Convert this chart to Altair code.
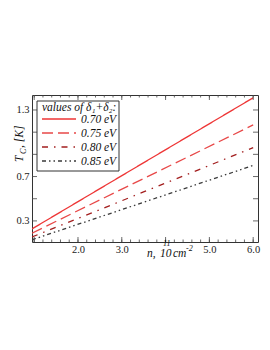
import altair as alt
import pandas as pd

# ---- data ----
series = ["0.70 eV", "0.75 eV", "0.80 eV", "0.85 eV"]
n_start = [0.95, 0.95, 0.95, 0.95]
n_end = [6.0, 6.0, 6.0, 6.0]
tc_start = [0.228, 0.19, 0.155, 0.13]
tc_end = [1.41, 1.165, 0.96, 0.80]

colors = ["#ee3636", "#e84848", "#a31f1f", "#3a3a3a"]
dashes = [[1, 0], [11, 5], [6, 6, 1.5, 6], [4, 3, 1.5, 3, 1.5, 3]]
legend_title = "values of δ₁+δ₂:"

x_labels = [2.0, 3.0, 5.0, 6.0]
y_labels = [0.3, 0.7, 1.3]
x_major = [1.0, 2.0, 3.0, 4.0, 5.0, 6.0]
x_minor = [round(1.0 + 0.2 * i, 2) for i in range(26)]
y_major = [0.3, 0.5, 0.7, 0.9, 1.1, 1.3]

W, H = 226, 147
XDOM = [0.95, 6.11]
YDOM = [0.11, 1.435]
FONT = "Liberation Serif"

rows = []
for s, a, b, c, d in zip(series, n_start, n_end, tc_start, tc_end):
    rows.append({"series": s, "n": a, "tc": c})
    rows.append({"series": s, "n": b, "tc": d})
df = pd.DataFrame(rows)

xs = alt.Scale(domain=XDOM, nice=False, zero=False)
ys = alt.Scale(domain=YDOM, nice=False, zero=False)

lines = alt.Chart(df).mark_line(strokeWidth=1.3, clip=True).encode(
    x=alt.X("n:Q", scale=xs,
            axis=alt.Axis(values=x_labels, format=".1f", ticks=False, domain=False,
                          grid=False, title=None, labelFont=FONT, labelFontSize=10.5,
                          labelColor="#222", labelPadding=2)),
    y=alt.Y("tc:Q", scale=ys,
            axis=alt.Axis(values=y_labels, format=".1f", ticks=False, domain=False,
                          grid=False, title=None, labelFont=FONT, labelFontSize=10.5,
                          labelColor="#222", labelPadding=3)),
    color=alt.Color("series:N", scale=alt.Scale(domain=series, range=colors), legend=None),
    strokeDash=alt.StrokeDash("series:N", scale=alt.Scale(domain=series, range=dashes),
                              legend=None),
)

tx_major = pd.DataFrame({"v": x_major})
tx_minor = pd.DataFrame({"v": x_minor})
ty_major = pd.DataFrame({"v": y_major})

def xticks(d, length):
    bot = alt.Chart(d).mark_rule(color="#444", strokeWidth=0.8).encode(
        x=alt.X("v:Q", scale=xs), y=alt.value(H), y2=alt.value(H - length))
    top = alt.Chart(d).mark_rule(color="#444", strokeWidth=0.8).encode(
        x=alt.X("v:Q", scale=xs), y=alt.value(0), y2=alt.value(length))
    return [bot, top]

def yticks(d, length):
    left = alt.Chart(d).mark_rule(color="#444", strokeWidth=0.8).encode(
        y=alt.Y("v:Q", scale=ys), x=alt.value(0), x2=alt.value(length))
    right = alt.Chart(d).mark_rule(color="#444", strokeWidth=0.8).encode(
        y=alt.Y("v:Q", scale=ys), x=alt.value(W), x2=alt.value(W - length))
    return [left, right]

def txt(t, x, y, size=11.5, angle=0, align="left", baseline="alphabetic"):
    return alt.Chart(pd.DataFrame({"t": [t]})).mark_text(
        font=FONT, fontSize=size, fontStyle="italic", color="#111",
        align=align, baseline=baseline, angle=angle).encode(
        text="t:N", x=alt.value(x), y=alt.value(y))

# axis titles (with super/subscripts)
xtitle = [
    txt("n,", 115, 162),
    txt("10", 128, 162),
    txt("11", 131, 151, size=8),
    txt("cm", 141, 162),
    txt("-2", 154, 156, size=8),
]
ytitle = [
    txt("T", -9, 67, angle=270),
    txt("C", -6, 59, size=8, angle=270),
    txt(", [K]", -9, 53, angle=270),
]

# legend box drawn in the plot area
box = alt.Chart(pd.DataFrame({"a": [0]})).mark_rect(
    fill="white", stroke="#333", strokeWidth=1).encode(
    x=alt.value(5), x2=alt.value(87), y=alt.value(6), y2=alt.value(76))
legend_layers = [box, txt(legend_title, 10, 16, size=11.5)]
row_y = [24, 38, 52, 66]
for s, c, d, yy in zip(series, colors, dashes, row_y):
    legend_layers.append(
        alt.Chart(pd.DataFrame({"s": [s]})).mark_rule(
            color=c, strokeWidth=1.3, strokeDash=d).encode(
            x=alt.value(10), x2=alt.value(44), y=alt.value(yy)))
    legend_layers.append(txt(s, 49, yy + 4, size=11.5))

chart = alt.layer(
    lines, *xticks(tx_major, 5), *xticks(tx_minor, 2.5), *yticks(ty_major, 5),
    *xtitle, *ytitle, *legend_layers
).resolve_scale(x="shared", y="shared").properties(
    width=W, height=H,
    autosize=alt.AutoSizeParams(type="none"),
    padding={"left": 24, "top": 87, "right": 4, "bottom": 40},
).configure_view(stroke="#333", strokeWidth=1)

chart.save("out.html", embed_options={"renderer": "svg", "actions": False})
